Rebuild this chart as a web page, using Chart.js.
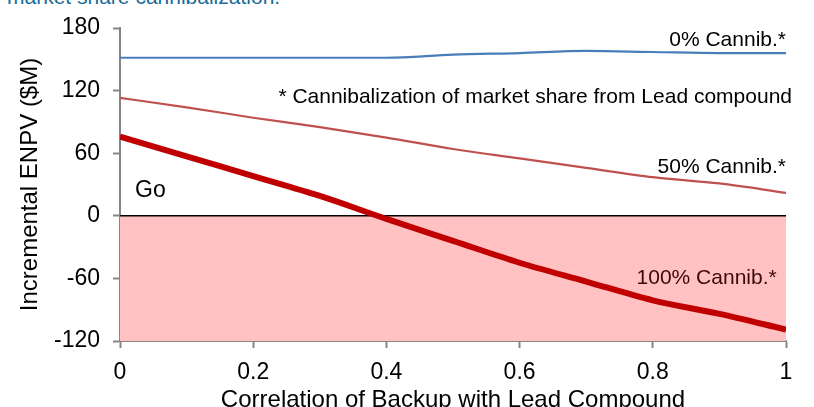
<!DOCTYPE html>
<html lang="en">
<head>
    <meta charset="UTF-8">
    <title>Incremental ENPV vs Correlation</title>
    <script src="https://cdn.jsdelivr.net/npm/chart.js"></script>
    <style>
        body {
            margin: 0;
            padding: 0;
            background-color: #fff;
            font-family: "Liberation Sans", Arial, sans-serif;
        }

        .wrap {
            position: relative;
            width: 814px;
            height: 407px;
            overflow: hidden;
        }

        .caption {
            position: absolute;
            left: 7px;
            top: -15px;
            font-size: 21px;
            line-height: 24px;
            color: #1a6b96;
            white-space: nowrap;
        }

        canvas {
            position: absolute;
            left: 0;
            top: 0;
        }
    </style>
</head>
<body>
    <div class="wrap">
        <div class="caption">market share cannibalization.</div>
        <canvas id="chart" width="814" height="407"></canvas>
    </div>

    <script>
        // correlation of backup with lead compound
        const correlation = [0, 0.1, 0.2, 0.3, 0.4, 0.5, 0.6, 0.7, 0.8, 0.9, 1];

        // incremental ENPV ($M) by cannibalization level
        const cannib0 = [151.5, 151.5, 151.5, 151.5, 151.5, 154.5, 156, 158, 157, 156, 156];
        const cannib50 = [113, 104, 94, 85, 75, 64, 55, 46, 37, 31, 22];
        const cannib100 = [76, 57, 38, 19, -3, -24, -45, -63, -81, -94, -109];

        // "no go" region below zero
        const zeroLine = [0, 0];
        const zeroX = [0, 1];

        const yTicks = [180, 120, 60, 0, -60, -120];

        // text notes on the plot
        const noteText = ['0% Cannib.*', '* Cannibalization of market share from Lead compound', '50% Cannib.*', 'Go', '100% Cannib.*'];
        const noteX = [1.0, 1.009, 1.0, 0.0225, 0.986];
        const noteY = [168.5, 114, 47, 24.5, -60];
        const noteAlign = ['right', 'right', 'right', 'left', 'right'];
        const noteColor = ['#000', '#000', '#000', '#000', '#3c0a0a'];
        const noteSize = [21, 21, 21, 23, 21];

        const toPoints = (xs, ys) => xs.map((x, i) => ({ x: x, y: ys[i] }));

        const notesPlugin = {
            id: 'notes',
            afterDatasetsDraw(chart) {
                const ctx = chart.ctx;
                const xs = chart.scales.x;
                const ys = chart.scales.y;
                ctx.save();
                ctx.textBaseline = 'middle';
                noteText.forEach((t, i) => {
                    ctx.font = noteSize[i] + 'px "Liberation Sans", Arial, sans-serif';
                    ctx.fillStyle = noteColor[i];
                    ctx.textAlign = noteAlign[i];
                    ctx.fillText(t, xs.getPixelForValue(noteX[i]), ys.getPixelForValue(noteY[i]));
                });
                ctx.restore();
            }
        };

        const axisFont = { family: '"Liberation Sans", Arial, sans-serif', size: 23 };

        new Chart(document.getElementById('chart'), {
            type: 'line',
            data: {
                datasets: [
                    {
                        label: '0% Cannib.',
                        data: toPoints(correlation, cannib0),
                        borderColor: '#4a7ebb',
                        borderWidth: 2.2,
                        pointRadius: 0,
                        cubicInterpolationMode: 'monotone',
                        order: 2
                    },
                    {
                        label: '50% Cannib.',
                        data: toPoints(correlation, cannib50),
                        borderColor: '#c0504d',
                        borderWidth: 2.2,
                        pointRadius: 0,
                        cubicInterpolationMode: 'monotone',
                        order: 1
                    },
                    {
                        label: '100% Cannib.',
                        data: toPoints(correlation, cannib100),
                        borderColor: '#c00000',
                        borderWidth: 6,
                        pointRadius: 0,
                        cubicInterpolationMode: 'monotone',
                        order: 0
                    },
                    {
                        label: 'No go',
                        data: toPoints(zeroX, zeroLine),
                        borderColor: '#000',
                        borderWidth: 1.5,
                        backgroundColor: '#ffc1c1',
                        fill: 'start',
                        pointRadius: 0,
                        order: 10
                    }
                ]
            },
            options: {
                responsive: false,
                animation: false,
                layout: {
                    padding: { top: 28, right: 28, left: 0, bottom: 0 }
                },
                plugins: {
                    legend: { display: false },
                    tooltip: { enabled: false }
                },
                scales: {
                    x: {
                        type: 'linear',
                        min: 0,
                        max: 1,
                        afterFit: (scale) => { scale.height = 66; },
                        ticks: {
                            stepSize: 0.2,
                            color: '#000',
                            font: axisFont,
                            padding: 11,
                            maxRotation: 0,
                            callback: (v) => String(Math.round(v * 10) / 10)
                        },
                        grid: {
                            drawOnChartArea: false,
                            color: '#868686',
                            tickLength: 7,
                            tickWidth: 2
                        },
                        border: { color: '#868686', width: 2 },
                        title: {
                            display: true,
                            text: 'Correlation of Backup with Lead Compound',
                            color: '#000',
                            font: { family: axisFont.family, size: 24 },
                            padding: { top: 0, bottom: -8 }
                        }
                    },
                    y: {
                        min: -120,
                        max: 180,
                        afterFit: (scale) => { scale.width = 120; },
                        afterBuildTicks: (scale) => { scale.ticks = yTicks.map(v => ({ value: v })); },
                        ticks: {
                            color: '#000',
                            font: axisFont,
                            padding: 13
                        },
                        grid: {
                            drawOnChartArea: false,
                            color: '#868686',
                            tickLength: 7,
                            tickWidth: 2
                        },
                        border: { color: '#868686', width: 2 },
                        title: {
                            display: true,
                            text: 'Incremental ENPV ($M)',
                            color: '#000',
                            font: { family: axisFont.family, size: 24 },
                            padding: { top: 16, bottom: 0 }
                        }
                    }
                }
            },
            plugins: [notesPlugin]
        });
    </script>
</body>
</html>
